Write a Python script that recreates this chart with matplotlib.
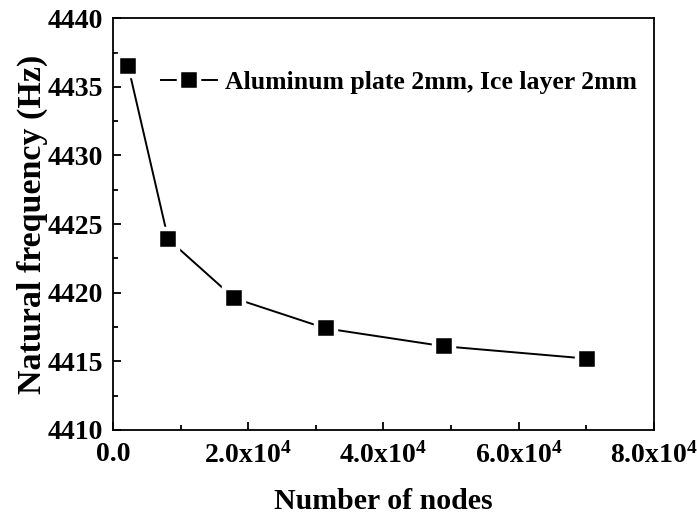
import matplotlib
matplotlib.use('Agg')
import matplotlib.pyplot as plt
from matplotlib.ticker import MultipleLocator, FuncFormatter

# data
nodes = [2260, 8180, 17940, 31500, 48950, 70140]
freq = [4436.5, 4423.9, 4419.6, 4417.4, 4416.1, 4415.2]
series_name = 'Aluminum plate 2mm, Ice layer 2mm'

plt.rcParams['font.family'] = 'Liberation Serif'
plt.rcParams['font.weight'] = 'bold'
plt.rcParams['mathtext.fontset'] = 'custom'
plt.rcParams['mathtext.rm'] = 'Liberation Serif:bold'
plt.rcParams['mathtext.it'] = 'Liberation Serif:bold'
plt.rcParams['mathtext.bf'] = 'Liberation Serif:bold'
plt.rcParams['mathtext.default'] = 'rm'

fig = plt.figure(figsize=(6.97, 5.16), dpi=100)
ax = fig.add_axes([0.162, 0.1667, 0.776, 0.798])

# white marker edge gives the little gap between line and marker (Origin look)
ax.plot(nodes, freq, color='black', lw=1.4, marker='s', markersize=14,
        markerfacecolor='black', markeredgecolor='white', markeredgewidth=3.2,
        label=series_name)

ax.set_xlim(0, 80000)
ax.set_ylim(4410, 4440)
ax.xaxis.set_major_locator(MultipleLocator(20000))
ax.xaxis.set_minor_locator(MultipleLocator(10000))
ax.yaxis.set_major_locator(MultipleLocator(5))
ax.yaxis.set_minor_locator(MultipleLocator(2.5))


def xfmt(v, pos):
    if v == 0:
        return '0.0'
    return r'%.1fx10$^{4}$' % (v / 1e4)


ax.xaxis.set_major_formatter(FuncFormatter(xfmt))
ax.tick_params(which='both', direction='in', width=1.3, top=False, right=False)
ax.tick_params(which='major', length=6, labelsize=20)
ax.tick_params(axis='x', which='major', pad=9)
ax.tick_params(axis='y', which='major', pad=7)
ax.tick_params(which='minor', length=3.5)
for s in ax.spines.values():
    s.set_linewidth(1.3)

ax.set_xlabel('Number of nodes', fontsize=21.5, fontweight='bold', labelpad=14)
ax.set_ylabel('Natural frequency (Hz)', fontsize=24.5, fontweight='bold', labelpad=0)

ax.legend(loc='center left', bbox_to_anchor=(0.088, 0.845), frameon=False,
          fontsize=18.5, handlelength=2.2, handletextpad=0.3,
          borderaxespad=0, borderpad=0)

fig.savefig('out.png', dpi=100)
